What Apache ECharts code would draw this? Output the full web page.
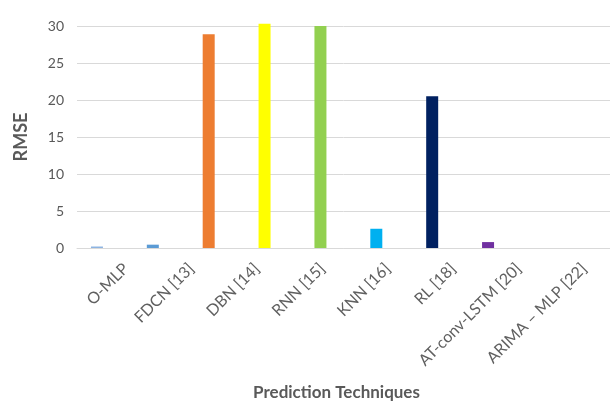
<!DOCTYPE html>
<html>
<head>
<meta charset="utf-8">
<script src="https://cdn.jsdelivr.net/npm/echarts@6/dist/echarts.min.js"></script>
<style>html,body{margin:0;padding:0;background:#fff}#c{width:610px;height:403px}</style>
</head>
<body>
<div id="c"></div>
<script>
const categories = ['O-MLP', 'FDCN [13]', 'DBN [14]', 'RNN [15]', 'KNN [16]', 'RL [18]', 'AT-conv-LSTM [20]', 'ARIMA – MLP [22]'];
const rmseValues = [0.2, 0.45, 28.9, 30.3, 30.0, 2.6, 20.5, 0.8];
const barColors = ['#8db4e2', '#5b9bd5', '#ed7d31', '#ffff00', '#92d050', '#00b0f0', '#002060', '#7030a0'];
const yTicks = [0, 5, 10, 15, 20, 25, 30];

const fontFam = 'Lato, "Open Sans", sans-serif';
const txtColor = '#595959';
const gridTop = 26, gridBottom = 155;

const chart = echarts.init(document.getElementById('c'));
chart.setOption({
  animation: false,
  grid: [
    {left: 77, right: 0, top: gridTop, bottom: gridBottom, containLabel: false, outerBoundsMode: 'none'},
    {left: 69, right: 94, top: gridTop, bottom: gridBottom, containLabel: false, outerBoundsMode: 'none'},
    {left: 126, right: 26, top: gridTop, bottom: gridBottom, containLabel: false, outerBoundsMode: 'none'}
  ],
  xAxis: [
    {gridIndex: 0, type: 'category', data: categories, axisLine: {lineStyle: {color: '#d9d9d9'}},
     axisTick: {show: false}, axisLabel: {show: false},
     name: 'Prediction Techniques', nameLocation: 'middle', nameGap: 136,
     nameTextStyle: {color: txtColor, fontSize: 17, fontWeight: 'bold', fontFamily: fontFam, padding: [0, 14, 0, 0]}},
    {gridIndex: 1, type: 'category', data: categories, show: false},
    {gridIndex: 2, type: 'category', data: categories, boundaryGap: false,
     axisLine: {show: false}, axisTick: {show: false},
     axisLabel: {rotate: 45, interval: 0, margin: 18, color: '#606060', fontSize: 16, fontFamily: fontFam}}
  ],
  yAxis: [
    {gridIndex: 0, type: 'value', min: yTicks[0], max: yTicks[yTicks.length - 1], interval: yTicks[1] - yTicks[0],
     axisLine: {show: false}, axisTick: {show: false},
     axisLabel: {color: txtColor, fontSize: 14, fontFamily: fontFam, margin: 13},
     splitLine: {lineStyle: {color: '#d9d9d9', width: 1}},
     name: 'RMSE', nameLocation: 'middle', nameGap: 47, nameRotate: 90,
     nameTextStyle: {color: txtColor, fontSize: 18, fontWeight: 'bold', fontFamily: fontFam}},
    {gridIndex: 1, type: 'value', min: yTicks[0], max: yTicks[yTicks.length - 1], show: false},
    {gridIndex: 2, type: 'value', min: 0, max: 30, show: false}
  ],
  series: [{
    type: 'bar', xAxisIndex: 1, yAxisIndex: 1, clip: false, barWidth: 12,
    data: rmseValues.map((v, i) => ({value: v, itemStyle: {color: barColors[i]}}))
  }]
});
</script>
</body>
</html>
